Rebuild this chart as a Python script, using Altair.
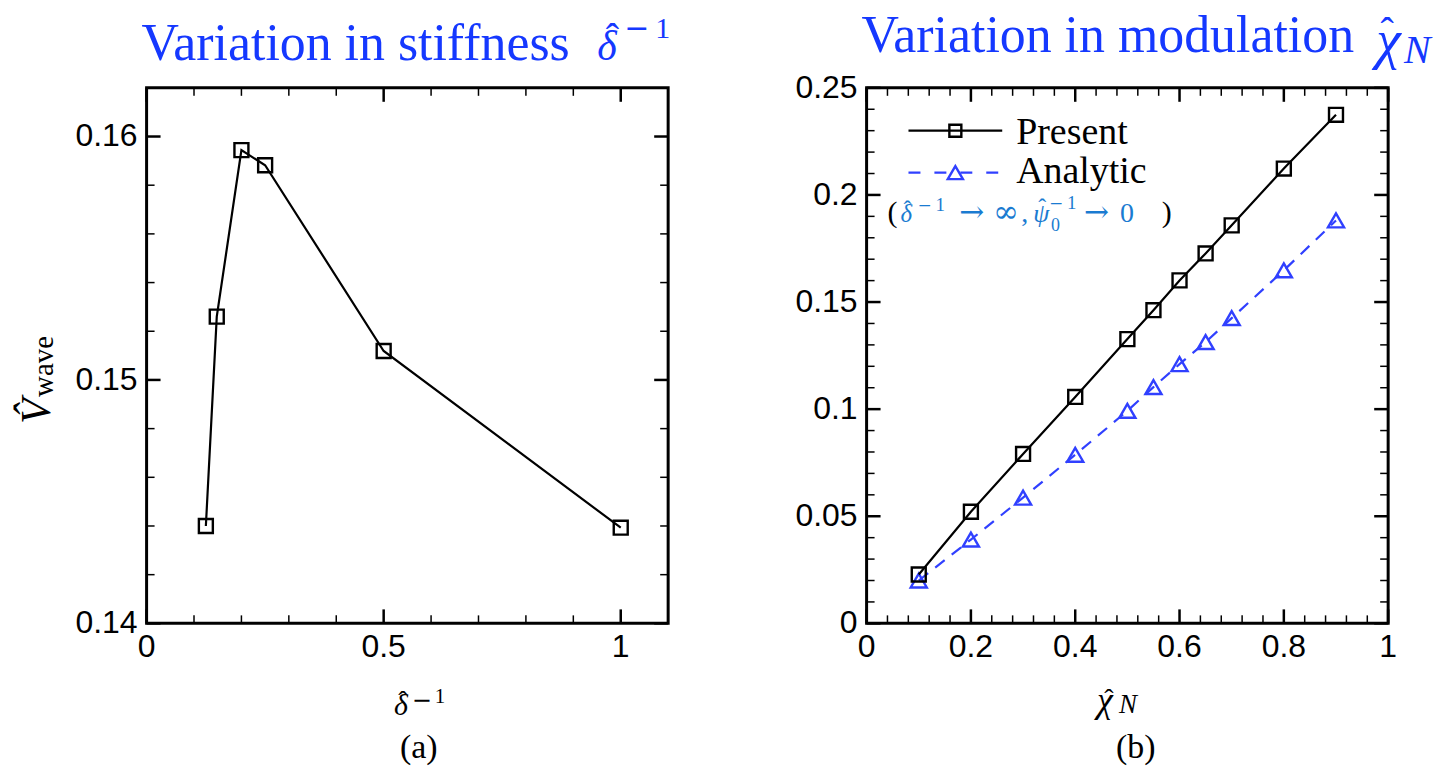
import altair as alt
import pandas as pd

# ---------------- data ----------------
# panel (a): variation in stiffness
a_x = [0.125, 0.148, 0.2, 0.25, 0.5, 1.0]
a_y = [0.1440, 0.1526, 0.15944, 0.15882, 0.15119, 0.14393]

# panel (b): variation in modulation
b_x = [0.1, 0.2, 0.3, 0.4, 0.5, 0.55, 0.6, 0.65, 0.7, 0.8, 0.9]
present_y = [0.0228, 0.0521, 0.0791, 0.1057, 0.1327, 0.1462, 0.1601, 0.1727, 0.1858, 0.2123, 0.2374]
analytic_y = [0.0200, 0.0391, 0.0587, 0.0787, 0.0992, 0.1103, 0.1210, 0.1313, 0.1425, 0.1648, 0.1881]

# tick values and labels
a_xticks_major = [0, 0.5, 1.0]
a_xtick_labels = ["0", "0.5", "1"]
a_xticks_minor = [0.1, 0.2, 0.3, 0.4, 0.6, 0.7, 0.8, 0.9]
a_yticks_major = [0.14, 0.15, 0.16]
a_ytick_labels = ["0.14", "0.15", "0.16"]
a_yticks_minor = [0.142, 0.144, 0.146, 0.148, 0.152, 0.154, 0.156, 0.158]
b_xticks_major = [0, 0.2, 0.4, 0.6, 0.8, 1.0]
b_xtick_labels = ["0", "0.2", "0.4", "0.6", "0.8", "1"]
b_xticks_minor = [0.04, 0.08, 0.12, 0.16, 0.24, 0.28, 0.32, 0.36, 0.44, 0.48,
                  0.52, 0.56, 0.64, 0.68, 0.72, 0.76, 0.84, 0.88, 0.92, 0.96]
b_yticks_major = [0, 0.05, 0.1, 0.15, 0.2, 0.25]
b_ytick_labels = ["0", "0.05", "0.1", "0.15", "0.2", "0.25"]
b_yticks_minor = [0.01, 0.02, 0.03, 0.04, 0.06, 0.07, 0.08, 0.09, 0.11, 0.12, 0.13, 0.14,
                  0.16, 0.17, 0.18, 0.19, 0.21, 0.22, 0.23, 0.24]

# ---------------- styling ----------------
W, H = 523, 537
MAJ, MIN = 14, 8
TITLE_BLUE = "#1538ff"
ANALYTIC_BLUE = "#3040ff"
NOTE_BLUE = "#1a7bd1"
SERIF = "Liberation Serif"
SANS = "Liberation Sans"
MATH = "DejaVu Serif"
HAT = "\u02c6"
MINUS = "\u2212"

one = pd.DataFrame({"k": [0]})


def txt(s, x, y, size, style="normal", color="black", align="left", angle=0, font=SERIF):
    return alt.Chart(one).mark_text(
        text=s, align=align, baseline="alphabetic", font=font, fontSize=size,
        fontStyle=style, color=color, angle=angle,
    ).encode(x=alt.value(x), y=alt.value(y))


def ticks(xs, ys, xscale, yscale, length, width):
    dx = pd.DataFrame({"t": xs})
    dy = pd.DataFrame({"t": ys})
    kw = dict(color="black", strokeWidth=width)
    X = alt.X("t:Q", scale=xscale, axis=None)
    Y = alt.Y("t:Q", scale=yscale, axis=None)
    return [
        alt.Chart(dx).mark_rule(**kw).encode(x=X, y=alt.value(H), y2=alt.value(H - length)),
        alt.Chart(dx).mark_rule(**kw).encode(x=X, y=alt.value(0), y2=alt.value(length)),
        alt.Chart(dy).mark_rule(**kw).encode(y=Y, x=alt.value(0), x2=alt.value(length)),
        alt.Chart(dy).mark_rule(**kw).encode(y=Y, x=alt.value(W), x2=alt.value(W - length)),
    ]


def tick_labels(xs, xl, ys, yl, xscale, yscale):
    dx = pd.DataFrame({"t": xs, "lab": xl})
    dy = pd.DataFrame({"t": ys, "lab": yl})
    kw = dict(font=SANS, fontSize=32, color="black")
    return [
        alt.Chart(dx).mark_text(align="center", baseline="top", **kw).encode(
            x=alt.X("t:Q", scale=xscale, axis=None), y=alt.value(H + 9), text="lab:N"),
        alt.Chart(dy).mark_text(align="right", baseline="middle", **kw).encode(
            y=alt.Y("t:Q", scale=yscale, axis=None), x=alt.value(-9), text="lab:N"),
    ]


# ---------------- panel (a) ----------------
xs_a = alt.Scale(domain=[0, 1.1], nice=False, zero=False)
ys_a = alt.Scale(domain=[0.14, 0.162], nice=False, zero=False)
df_a = pd.DataFrame({"x": a_x, "y": a_y})

base_a = alt.Chart(df_a).encode(
    x=alt.X("x:Q", scale=xs_a, axis=None),
    y=alt.Y("y:Q", scale=ys_a, axis=None),
)
line_a = base_a.mark_line(color="black", strokeWidth=2.2)
pts_a = base_a.mark_point(shape="square", size=196, filled=False, color="black",
                          strokeWidth=2.4, opacity=1)

canvas = alt.Chart(one).mark_rect(color="white", opacity=0).encode(
    x=alt.value(-145), x2=alt.value(1298), y=alt.value(-85), y2=alt.value(689))

texts_a = [
    # title
    txt("Variation in stiffness ", -5, -28, 52, color=TITLE_BLUE),
    txt("\u03b4", 452, -28, 42, style="italic", color=TITLE_BLUE),
    txt(HAT, 467, -37, 40, color=TITLE_BLUE, align="center"),
    txt(MINUS, 479, -50, 30, color=TITLE_BLUE, font=MATH),
    txt("1", 510, -50, 30, color=TITLE_BLUE),
    # y title
    txt("V\u0302", -97, 337, 42, style="italic", angle=270),
    txt("wave", -94, 310, 29, angle=270),
    # x title
    txt("\u03b4", 248, 629, 30, style="italic"),
    txt(HAT, 257, 624, 28, align="center"),
    txt(MINUS, 266, 622, 24, font=MATH),
    txt("1", 289, 617, 21),
    txt("(a)", 273, 672, 34, align="center"),
]

left = alt.layer(
    canvas, line_a, pts_a,
    *ticks(a_xticks_major, a_yticks_major, xs_a, ys_a, MAJ, 2.5),
    *ticks(a_xticks_minor, a_yticks_minor, xs_a, ys_a, MIN, 1.5),
    *tick_labels(a_xticks_major, a_xtick_labels, a_yticks_major, a_ytick_labels, xs_a, ys_a),
    *texts_a,
).properties(width=W, height=H)

# ---------------- panel (b) ----------------
xs_b = alt.Scale(domain=[0, 1], nice=False, zero=False)
ys_b = alt.Scale(domain=[0, 0.25], nice=False, zero=False)
df_p = pd.DataFrame({"x": b_x, "y": present_y})
df_an = pd.DataFrame({"x": b_x, "y": analytic_y})

enc_b = dict(
    x=alt.X("x:Q", scale=xs_b, axis=None),
    y=alt.Y("y:Q", scale=ys_b, axis=None),
)
an_line = alt.Chart(df_an).mark_line(color=ANALYTIC_BLUE, strokeWidth=2.2, strokeDash=[12, 9]).encode(**enc_b)
an_pts = alt.Chart(df_an).mark_point(shape="triangle-up", size=260, filled=False, color=ANALYTIC_BLUE,
                                     strokeWidth=2.4, opacity=1).encode(**enc_b)
pr_line = alt.Chart(df_p).mark_line(color="black", strokeWidth=2.2).encode(**enc_b)
pr_pts = alt.Chart(df_p).mark_point(shape="square", size=196, filled=False, color="black",
                                    strokeWidth=2.4, opacity=1).encode(**enc_b)

legend = [
    alt.Chart(one).mark_rule(color="black", strokeWidth=2.2).encode(
        x=alt.value(42), x2=alt.value(136), y=alt.value(43)),
    alt.Chart(one).mark_point(shape="square", size=144, filled=False, color="black",
                              strokeWidth=2.4, opacity=1).encode(x=alt.value(89), y=alt.value(43)),
    alt.Chart(one).mark_rule(color=ANALYTIC_BLUE, strokeWidth=2.2, strokeDash=[12, 14]).encode(
        x=alt.value(42), x2=alt.value(136), y=alt.value(85)),
    alt.Chart(one).mark_point(shape="triangle-up", size=230, filled=False, color=ANALYTIC_BLUE,
                              strokeWidth=2.4, opacity=1).encode(x=alt.value(89), y=alt.value(85)),
    txt("Present", 150, 56, 38),
    txt("Analytic", 150, 95, 38),
]

note = [
    txt("(", 21, 135, 30),
    txt("\u03b4", 34, 135, 25, style="italic", color=NOTE_BLUE),
    txt(HAT, 41, 130, 24, color=NOTE_BLUE, align="center"),
    txt(MINUS, 51, 124, 17, color=NOTE_BLUE, font=MATH),
    txt("1", 69, 124, 19, color=NOTE_BLUE),
    txt("\u2192", 93, 135, 30, color=NOTE_BLUE, font=MATH),
    txt("\u221e", 127, 135, 31, color=NOTE_BLUE, font=MATH),
    txt(",", 155, 135, 28, color=NOTE_BLUE),
    txt("\u03c8", 167, 135, 26, style="italic", color=NOTE_BLUE),
    txt(HAT, 176, 128, 24, color=NOTE_BLUE, align="center"),
    txt(MINUS, 183, 122, 17, color=NOTE_BLUE, font=MATH),
    txt("1", 201, 122, 19, color=NOTE_BLUE),
    txt("0", 185, 144, 18, color=NOTE_BLUE),
    txt("\u2192", 218, 135, 30, color=NOTE_BLUE, font=MATH),
    txt("0", 254, 135, 28, color=NOTE_BLUE),
    txt(")", 296, 135, 30),
]

texts_b = [
    # title
    txt("Variation in modulation ", -5, -36, 52, color=TITLE_BLUE),
    txt("\u03c7", 511, -30, 56, style="italic", color=TITLE_BLUE),
    txt(HAT, 522, -43, 40, color=TITLE_BLUE, align="center"),
    txt("N", 539, -25, 40, style="italic", color=TITLE_BLUE),
    # x title
    txt("\u03c7", 231, 626, 36, style="italic"),
    txt(HAT, 243, 622, 28, align="center"),
    txt("N", 253, 627, 27, style="italic"),
    txt("(b)", 270, 672, 34, align="center"),
]

right = alt.layer(
    an_line, an_pts, pr_line, pr_pts,
    *ticks(b_xticks_major, b_yticks_major, xs_b, ys_b, MAJ, 2.5),
    *ticks(b_xticks_minor, b_yticks_minor, xs_b, ys_b, MIN, 1.5),
    *tick_labels(b_xticks_major, b_xtick_labels, b_yticks_major, b_ytick_labels, xs_b, ys_b),
    *legend, *note, *texts_b,
).properties(width=W, height=H)

chart = alt.hconcat(left, right, spacing=199, bounds="flush").properties(
    padding=0, background="white"
).configure_view(stroke="black", strokeWidth=3)

chart.save("out.html", embed_options={"renderer": "svg", "actions": False})
